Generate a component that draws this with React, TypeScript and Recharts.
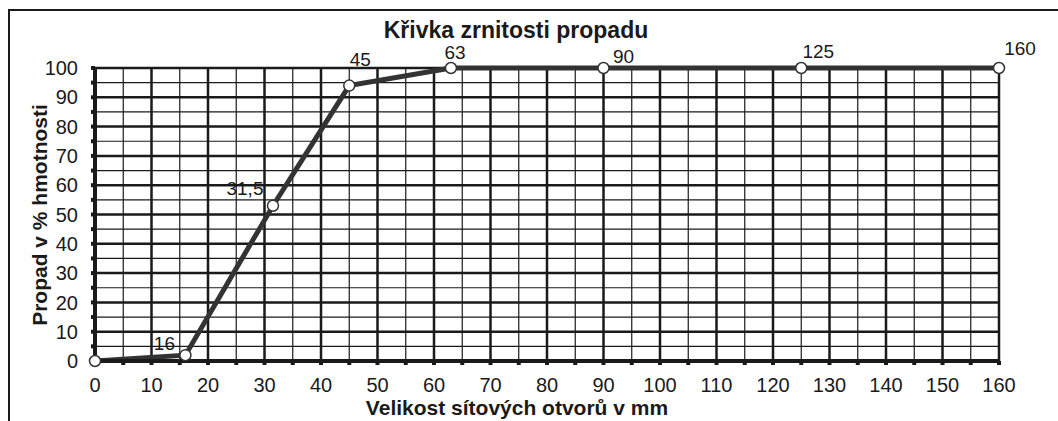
import React from 'react';
import {
  LineChart,
  Line,
  XAxis,
  YAxis,
  CartesianGrid,
  LabelList,
  Customized,
} from 'recharts';

// ---- data ----
const SIEVE_SIZES = [0, 16, 31.5, 45, 63, 90, 125, 160];
const PASSING_PCT = [0, 2, 53, 94, 100, 100, 100, 100];

const X_TICKS = [0, 5, 10, 15, 20, 25, 30, 35, 40, 45, 50, 55, 60, 65, 70, 75, 80, 85, 90, 95, 100, 105, 110, 115, 120, 125, 130, 135, 140, 145, 150, 155, 160];
const Y_TICKS = [0, 5, 10, 15, 20, 25, 30, 35, 40, 45, 50, 55, 60, 65, 70, 75, 80, 85, 90, 95, 100];
const X_MAJOR = [0, 10, 20, 30, 40, 50, 60, 70, 80, 90, 100, 110, 120, 130, 140, 150, 160];
const X_MINOR = [5, 15, 25, 35, 45, 55, 65, 75, 85, 95, 105, 115, 125, 135, 145, 155];
const Y_MAJOR = [0, 10, 20, 30, 40, 50, 60, 70, 80, 90, 100];
const Y_MINOR = [5, 15, 25, 35, 45, 55, 65, 75, 85, 95];

const TITLE = 'Křivka zrnitosti propadu';
const X_LABEL = 'Velikost sítových otvorů v mm';
const Y_LABEL = 'Propad v % hmotnosti';

const data = SIEVE_SIZES.map((s, i) => ({ size: s, pass: PASSING_PCT[i] }));

// label offsets (style only)
const LABEL_OFFSETS: [number, number][] = [
  [0, 0],
  [-21, -5],
  [-28, -11],
  [11, -20],
  [4, -9],
  [20, -5],
  [17, -10],
  [21, -13],
];

const FONT = '"Liberation Sans", Arial, sans-serif';
const INK = '#1a1a1a';

const fmtTick = (v: number) => (v % 10 === 0 ? String(v) : '');

const PointLabel = (props: any) => {
  const { x, y, value, index } = props;
  if (index === 0) return null;
  const [dx, dy] = LABEL_OFFSETS[index] || [0, -10];
  return (
    <text
      x={x + dx}
      y={y + dy}
      textAnchor="middle"
      fontSize={19}
      fontFamily={FONT}
      fill={INK}
    >
      {String(value).replace('.', ',')}
    </text>
  );
};

const Texts = () => (
  <g fontFamily={FONT} fill={INK} fontWeight="bold">
    <text x={516} y={38} textAnchor="middle" fontSize={23}>
      {TITLE}
    </text>
    <text x={517} y={415} textAnchor="middle" fontSize={21}>
      {X_LABEL}
    </text>
    <text transform="translate(47,215) rotate(-90)" x={0} y={0} textAnchor="middle" fontSize={21}>
      {Y_LABEL}
    </text>
  </g>
);

export default function App() {
  return (
    <div style={{ position: 'absolute', left: 0, top: 0, width: 1058, height: 421, background: '#fff' }}>
      <div
        style={{
          position: 'absolute',
          left: 8,
          top: 9,
          width: 1050,
          height: 412,
          borderTop: `2px solid ${INK}`,
          borderLeft: `2px solid ${INK}`,
          boxSizing: 'border-box',
        }}
      />
      <div style={{ position: 'absolute', left: 0, top: 0 }}>
        <LineChart
          width={1058}
          height={421}
          data={data}
          margin={{ top: 68, right: 59, bottom: 20, left: 35 }}
        >
          <CartesianGrid
            stroke={INK}
            strokeWidth={1.2}
            verticalValues={X_MINOR}
            horizontalValues={Y_MINOR}
          />
          <CartesianGrid
            stroke={INK}
            strokeWidth={2.5}
            verticalValues={X_MAJOR}
            horizontalValues={Y_MAJOR}
          />
          <XAxis
            dataKey="size"
            type="number"
            domain={[0, 160]}
            ticks={X_TICKS}
            interval={0}
            tickFormatter={fmtTick}
            height={40}
            axisLine={{ stroke: INK, strokeWidth: 4 }}
            tickLine={{ stroke: INK, strokeWidth: 4 }}
            tickSize={4}
            tickMargin={13}
            tick={{ fontSize: 20, fontFamily: FONT, fill: INK }}
          />
          <YAxis
            type="number"
            domain={[0, 100]}
            ticks={Y_TICKS}
            interval={0}
            tickFormatter={fmtTick}
            width={60}
            axisLine={{ stroke: INK, strokeWidth: 4 }}
            tickLine={{ stroke: INK, strokeWidth: 4 }}
            tickSize={4}
            tickMargin={13}
            tick={{ fontSize: 20, fontFamily: FONT, fill: INK }}
          />
          <Line
            dataKey="pass"
            type="linear"
            stroke="#333"
            strokeWidth={5}
            isAnimationActive={false}
            dot={{ r: 5.5, fill: '#fff', stroke: '#333', strokeWidth: 1.5 }}
            activeDot={false}
          >
            <LabelList dataKey="size" content={PointLabel} />
          </Line>
          <Customized component={Texts} />
        </LineChart>
      </div>
    </div>
  );
}
